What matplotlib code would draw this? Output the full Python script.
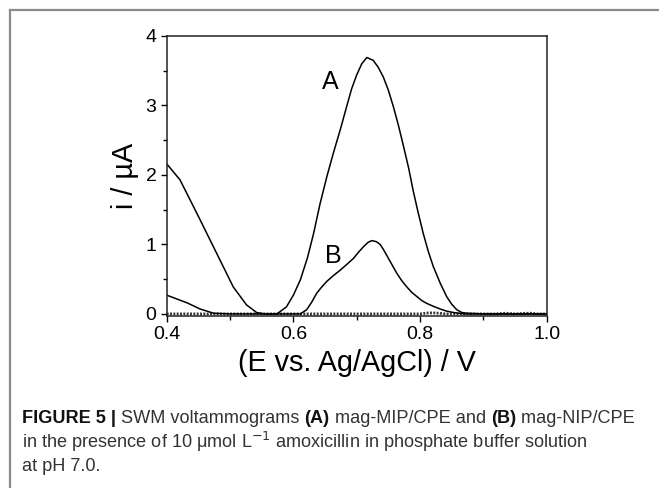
# plot.py
# SWV voltammograms, mag-MIP/CPE vs mag-NIP/CPE (figure 5 redraw)

import matplotlib
matplotlib.use('Agg')
import matplotlib.pyplot as plt
from matplotlib.lines import Line2D
from matplotlib.ticker import MultipleLocator

plt.rcParams['font.family'] = ['Liberation Sans', 'DejaVu Sans']

# curve A: mag-MIP/CPE
a_E = [0.400, 0.421, 0.453, 0.479, 0.505, 0.526, 0.542, 0.555, 0.574,
       0.589, 0.600, 0.611, 0.622, 0.632, 0.642, 0.653, 0.663, 0.674,
       0.684, 0.692, 0.700, 0.708, 0.716, 0.726, 0.734, 0.742, 0.750,
       0.758, 0.766, 0.774, 0.782, 0.789, 0.797, 0.805, 0.813, 0.821,
       0.832, 0.842, 0.850, 0.858, 0.866, 0.874, 0.900, 0.950, 1.000]
a_i = [2.16, 1.93, 1.35, 0.87, 0.39, 0.13, 0.02, 0.00, 0.00,
       0.10, 0.27, 0.49, 0.80, 1.16, 1.58, 1.98, 2.31, 2.65,
       2.98, 3.24, 3.44, 3.60, 3.69, 3.65, 3.55, 3.41, 3.22,
       2.98, 2.71, 2.41, 2.10, 1.78, 1.46, 1.16, 0.90, 0.68,
       0.44, 0.25, 0.14, 0.06, 0.02, 0.01, 0.00, 0.00, 0.00]

# curve B: mag-NIP/CPE
b_E = [0.400, 0.432, 0.453, 0.474, 0.500, 0.550, 0.600, 0.611, 0.621,
       0.629, 0.637, 0.645, 0.653, 0.663, 0.674, 0.684, 0.695, 0.703,
       0.711, 0.718, 0.724, 0.731, 0.737, 0.742, 0.747, 0.755, 0.763,
       0.771, 0.779, 0.787, 0.795, 0.803, 0.811, 0.821, 0.832, 0.842,
       0.853, 0.870, 0.900, 0.950, 1.000]
b_i = [0.27, 0.16, 0.07, 0.01, 0.00, 0.00, 0.00, 0.00, 0.06,
       0.17, 0.30, 0.39, 0.47, 0.55, 0.63, 0.71, 0.80, 0.89,
       0.97, 1.03, 1.055, 1.04, 1.00, 0.93, 0.85, 0.72, 0.59,
       0.48, 0.39, 0.31, 0.25, 0.19, 0.15, 0.11, 0.07, 0.04,
       0.02, 0.00, 0.00, 0.00, 0.00]

# blank baseline (dotted, near zero)
c_E = [0.40, 0.50, 0.60, 0.70, 0.80, 0.810, 0.820, 0.830, 0.84, 0.92,
       0.935, 0.95, 0.965, 0.975, 0.985, 1.00]
c_i = [0.00, 0.00, 0.00, 0.00, 0.00, 0.012, 0.015, 0.010, 0.00, 0.00,
       0.010, 0.00, 0.008, 0.010, 0.00, 0.00]

x_ticks = [0.4, 0.6, 0.8, 1.0]
y_ticks = [0, 1, 2, 3, 4]

caption = [
    [('FIGURE 5 | ', 'bold'), ('SWM voltammograms ', 'normal'),
     ('(A)', 'bold'), (' mag-MIP/CPE and ', 'normal'),
     ('(B)', 'bold'), (' mag-NIP/CPE', 'normal')],
    [('in the presence of 10 \u03bcmol L$^{-1}$ amoxicillin in phosphate '
      'buffer solution', 'normal')],
    [('at pH 7.0.', 'normal')],
]

W, H = 659, 488
fig = plt.figure(figsize=(W / 100, H / 100), dpi=100)
fig.patch.set_facecolor('white')

# frame around the figure panel (top and left edges only)
fig.add_artist(Line2D([10 / W, 1.0], [1 - 10 / H, 1 - 10 / H],
                      transform=fig.transFigure, color='#8a8a8a', lw=1.6))
fig.add_artist(Line2D([10 / W, 10 / W], [0.0, 1 - 10 / H],
                      transform=fig.transFigure, color='#8a8a8a', lw=1.6))

ax = fig.add_axes([166.7 / W, 1 - 316 / H, 380 / W, 280 / H])
ax.plot(c_E, c_i, color='#333333', lw=2.0, linestyle=(0, (0.7, 0.5)))
ax.plot(a_E, a_i, color='black', lw=1.1)
ax.plot(b_E, b_i, color='black', lw=1.1)

ax.set_xlim(0.4, 1.0)
ax.set_ylim(-0.03, 4.0)
ax.set_xticks(x_ticks)
ax.set_yticks(y_ticks)
ax.xaxis.set_minor_locator(MultipleLocator(0.1))
ax.yaxis.set_minor_locator(MultipleLocator(0.5))
ax.tick_params(which='major', direction='out', length=4.3, width=1,
               labelsize=14, pad=3)
ax.tick_params(which='minor', direction='out', length=2.8, width=1)
for sp in ax.spines.values():
    sp.set_linewidth(1.1)
    sp.set_color('#222222')

ax.set_xlabel('(E vs. Ag/AgCl) / V', fontsize=20.7, labelpad=4)
ax.set_ylabel('i / \u00b5A', fontsize=20.7, labelpad=5)

ax.text(0.659, 3.24, 'A', fontsize=18, ha='center', va='baseline')
ax.text(0.663, 0.73, 'B', fontsize=18, ha='center', va='baseline')

# caption with mixed bold / normal runs
renderer = fig.canvas.get_renderer()
baselines = [423, 448, 471]
for line, base in zip(caption, baselines):
    x = 22
    for txt, wt in line:
        color = '#111111' if wt == 'bold' else '#333333'
        t = fig.text(x / W, 1 - base / H, txt, fontsize=13.1,
                     fontweight=wt, color=color, ha='left', va='baseline')
        bb = t.get_window_extent(renderer=renderer)
        x += bb.width

fig.savefig('out.png', dpi=100)
